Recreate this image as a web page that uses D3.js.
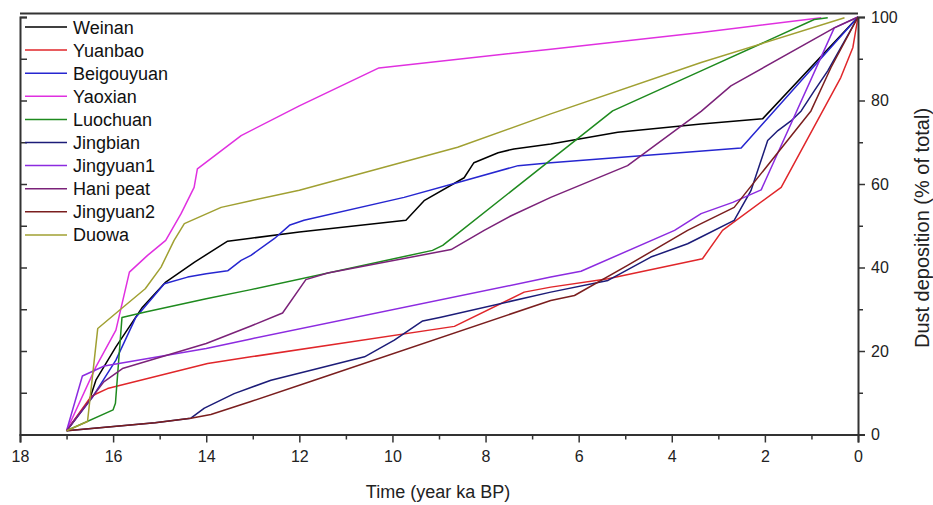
<!DOCTYPE html>
<html>
<head>
<meta charset="utf-8">
<script src="https://cdn.jsdelivr.net/npm/d3@7"></script>
<style>
  html, body { margin: 0; padding: 0; background: #fff; }
  svg { display: block; font-family: Arial, "Liberation Sans", sans-serif; }
</style>
</head>
<body>
<svg id="chart" width="933" height="505"></svg>
<script>
// Cumulative dust deposition records: [age (ka BP), % of total]
const weinan = [[17,0.9],[16.51,8.2],[16.37,13],[15.94,21],[15.37,30.5],[14.87,36.5],[14.25,41.3],[13.54,46.3],[13.04,47],[12.0,48.5],[9.71,51.3],[9.32,56],[8.46,61.5],[8.25,65.1],[7.73,67.5],[7.39,68.4],[6.6,69.6],[5.16,72.4],[3.37,74.4],[2.05,75.6],[0,100]];
const yuanbao = [[17,0.9],[16.48,9.0],[16.37,9.7],[16.12,11],[13.97,17],[13.04,18.6],[8.67,25.9],[7.17,34.1],[6.6,35.3],[5.37,37.3],[3.34,42.1],[2.91,48.9],[1.65,59.2],[0.37,85.5],[0.11,92.7],[0,100]];
const beigouyuan = [[17,0.9],[16.44,9],[15.94,17.8],[15.51,28.1],[14.9,36.1],[14.4,37.7],[14.0,38.5],[13.54,39.2],[13.25,41.7],[13.04,42.9],[12.54,46.9],[12.2,50.2],[11.9,51.3],[9.75,56.8],[8.46,60.8],[7.3,64.4],[6.6,65.1],[2.51,68.6],[0,100]];
const yaoxian = [[17,0.9],[16.37,16.2],[15.94,25],[15.65,38.9],[15.26,42.9],[14.87,46.5],[14.54,52.9],[14.26,59.2],[14.19,63.6],[13.25,71.6],[12.0,78.7],[10.29,87.8],[6.6,92.3],[3.37,96.3],[0.79,99.8]];
const luochuan = [[17,0.9],[16.0,5.9],[15.95,7.5],[15.81,28],[15.33,29.3],[14.0,32.5],[13.04,34.7],[9.14,44.1],[8.92,45.3],[5.27,77.5],[3.37,87.1],[0.94,99.4],[0.65,99.8]];
const jingbian = [[17,0.9],[15.1,2.8],[14.33,3.9],[14.04,6.3],[13.4,9.8],[12.61,13],[11.75,15.4],[10.6,18.6],[9.96,22.6],[9.35,27.2],[8.96,28.1],[6.6,34.1],[5.37,36.9],[4.45,42.5],[3.66,45.7],[3.37,47.3],[2.66,51.3],[2.3,58.4],[1.94,70.4],[1.72,72.8],[1.44,75.1],[1.22,77.5],[0.94,82.3],[0.65,87.1],[0,100]];
const jingyuan1 = [[17,0.9],[16.66,14],[16.19,16.4],[14.0,20.6],[13.04,22.9],[6.6,37.7],[5.95,39.1],[3.94,48.9],[3.37,52.9],[2.69,55.6],[2.08,58.6],[0.51,97.4],[0,100]];
const haniPeat = [[17,0.9],[16.2,12.6],[15.8,15.8],[14.0,21.8],[13.04,26],[12.36,29.1],[11.86,37.1],[11.39,38.7],[8.74,44.3],[8.03,48.9],[7.45,52.4],[6.6,56.8],[4.95,64.4],[3.37,77.4],[2.73,83.5],[0.51,97.4],[0,100]];
const jingyuan2 = [[17,0.9],[15.1,2.8],[14.33,3.9],[13.9,4.8],[13.04,7.9],[11.68,13],[6.6,32.1],[6.09,33.3],[4.95,40.5],[3.66,48.9],[3.37,50.5],[2.66,54.4],[1.01,77.5],[0.58,87.9],[0,100]];
const duowa = [[17,0.9],[16.55,3.1],[16.33,25.4],[15.87,29.7],[15.31,34.9],[14.97,40.1],[14.69,46.5],[14.47,50.5],[13.68,54.4],[13.04,56],[12.0,58.5],[10.18,64],[8.6,68.8],[6.6,76.8],[3.37,89.1],[0.29,99.8]];

const seriesNames = ["Weinan","Yuanbao","Beigouyuan","Yaoxian","Luochuan","Jingbian","Jingyuan1","Hani peat","Jingyuan2","Duowa"];
const seriesData = [weinan, yuanbao, beigouyuan, yaoxian, luochuan, jingbian, jingyuan1, haniPeat, jingyuan2, duowa];
const seriesColors = ["#000000","#e0262a","#2626d0","#e030e0","#1e8a1e","#1c1c78","#8c2be0","#7b2279","#7a1e1e","#a0a032"];

const xTickValues = [18,16,14,12,10,8,6,4,2,0];
const yTickValues = [0,20,40,60,80,100];

const svg = d3.select("#chart");
const x = d3.scaleLinear().domain([18, 0]).range([20, 858]);
const y = d3.scaleLinear().domain([0, 100]).range([434.5, 17]);

const axisColor = "#333";

// plotted series
const line = d3.line().x(d => x(d[0])).y(d => y(d[1]));
const plot = svg.append("g");
seriesData.forEach((data, i) => {
  plot.append("path")
    .datum(data)
    .attr("d", line)
    .attr("fill", "none")
    .attr("stroke", seriesColors[i])
    .attr("stroke-width", 1.5)
    .attr("stroke-linejoin", "round");
});

// frame top edge
svg.append("line").attr("x1", 20).attr("x2", 858).attr("y1", 13.5).attr("y2", 13.5)
  .attr("stroke", axisColor).attr("stroke-width", 2);

// bottom axis: labelled major ticks every 2 ka, minor every 1 ka
svg.append("g").attr("transform", `translate(0,${y(0)})`)
  .call(d3.axisBottom(x).tickValues(xTickValues).tickSize(8).tickPadding(8).tickFormat(d3.format("d")));
svg.append("g").attr("transform", `translate(0,${y(0)})`)
  .call(d3.axisBottom(x).tickValues(d3.range(17, 0, -2)).tickSize(5).tickFormat(""))
  .select(".domain").remove();

// right axis: labelled major ticks every 20 %, minor every 10 %
svg.append("g").attr("transform", `translate(${x(0)},0)`)
  .call(d3.axisRight(y).tickValues(yTickValues).tickSize(7).tickPadding(6));
svg.append("g").attr("transform", `translate(${x(0)},0)`)
  .call(d3.axisRight(y).tickValues([10,30,50,70,90]).tickSize(5).tickFormat(""))
  .select(".domain").remove();

// left axis: inward ticks, no labels
svg.append("g").attr("transform", `translate(${x(18)},0)`)
  .call(d3.axisRight(y).tickValues(d3.range(0, 101, 10)).tickSize(7).tickFormat(""));

svg.selectAll(".domain").attr("stroke", axisColor).attr("stroke-width", 2);
svg.selectAll(".tick line").attr("stroke", axisColor).attr("stroke-width", 1.5);
svg.selectAll(".tick text").attr("font-size", 16).attr("fill", "#222")
  .attr("font-family", "Arial, 'Liberation Sans', sans-serif");

// axis titles
svg.append("text").attr("x", 438).attr("y", 498).attr("text-anchor", "middle")
  .attr("font-size", 18).attr("fill", "#222").text("Time (year ka BP)");
svg.append("text").attr("transform", "translate(929,228) rotate(-90)").attr("text-anchor", "middle")
  .attr("font-size", 20).attr("fill", "#222").text("Dust deposition (% of total)");

// legend
const legend = svg.append("g");
seriesNames.forEach((name, i) => {
  const cy = 27 + i * 23.1;
  legend.append("line").attr("x1", 25).attr("x2", 67).attr("y1", cy).attr("y2", cy)
    .attr("stroke", seriesColors[i]).attr("stroke-width", 1.5);
  legend.append("text").attr("x", 73).attr("y", cy + 6.5).attr("font-size", 18)
    .attr("fill", "#111").text(name);
});
</script>
</body>
</html>
